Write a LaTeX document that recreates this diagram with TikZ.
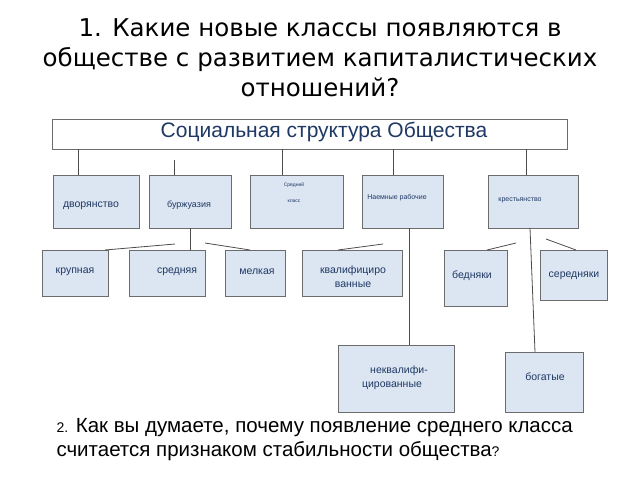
\documentclass[tikz,border=0pt]{standalone}
\usepackage{fontspec}
\setmainfont{DejaVu Sans}
\newfontfamily\arialf{Liberation Sans}
\begin{document}
\begin{tikzpicture}[x=1pt,y=-1pt,
  bx/.style={draw=gray!85!black,fill=boxfill,line width=1pt,inner sep=0pt,anchor=north west},
  tx/.style={text=txtc,font=\arialf\fontsize{10.5}{14}\selectfont,align=center},
  ln/.style={draw=black!70,line width=0.8pt}]
\definecolor{boxfill}{HTML}{DCE6F2}
\definecolor{txtc}{HTML}{1F3864}
\useasboundingbox (0,0) rectangle (640,480);
\node[align=center,font=\fontsize{24.5}{30}\selectfont] (h) at (320,58) {1. Какие новые классы появляются в\\обществе с развитием капиталистических\\отношений?};
\node[bx,fill=white,minimum width=515pt,minimum height=30pt] (t) at (52,119) {};
\node[tx,font=\arialf\fontsize{21}{23}\selectfont] (tt) at (324,132) {Социальная структура Общества};
\node[bx,minimum width=86pt,minimum height=53pt] (d) at (53,175) {};
\node[tx] (dt) at (91,206) {дворянство};
\node[bx,minimum width=82pt,minimum height=53pt] (b) at (149,175) {};
\node[tx,font=\arialf\fontsize{9}{11}\selectfont] (bt) at (189,205) {буржуазия};
\node[bx,minimum width=93pt,minimum height=53pt] (s) at (250,175) {};
\node[tx,font=\arialf\fontsize{5}{16}\selectfont] (st) at (294,193) {Средний\\класс};
\node[bx,minimum width=81pt,minimum height=53pt] (n) at (362,175) {};
\node[tx,font=\arialf\fontsize{7}{9}\selectfont] (nt) at (397,198) {Наемные рабочие};
\node[bx,minimum width=90pt,minimum height=53pt] (k) at (488,175) {};
\node[tx,font=\arialf\fontsize{7}{9}\selectfont] (kt) at (520,200) {крестьянство};
\node[bx,minimum width=66pt,minimum height=46pt] (kr) at (42,250) {};
\node[tx] (krt) at (75,272) {крупная};
\node[bx,minimum width=76pt,minimum height=46pt] (sr) at (129,250) {};
\node[tx] (srt) at (177,272) {средняя};
\node[bx,minimum width=60pt,minimum height=46pt] (m) at (225,250) {};
\node[tx] (mt) at (257,272) {мелкая};
\node[bx,minimum width=100pt,minimum height=46pt] (kv) at (302,250) {};
\node[tx] (kvt) at (353,277) {квалифициро\\ванные};
\node[bx,minimum width=63pt,minimum height=56pt] (be) at (444,250) {};
\node[tx] (bet) at (472,276) {бедняки};
\node[bx,minimum width=67pt,minimum height=50pt] (se) at (540,250) {};
\node[tx] (set) at (574,276) {середняки};
\node[bx,minimum width=116pt,minimum height=67pt] (nk) at (338,345) {};
\node[tx] (nkt) at (392,378) {\hspace*{14pt}неквалифи-\\цированные};
\node[bx,minimum width=78pt,minimum height=60pt] (bo) at (505,352) {};
\node[tx] (bot) at (545,377) {богатые};
% connectors
\coordinate (a1) at (78,149);
\draw[ln] (a1) -- (d.north west -| a1);
\coordinate (c1) at (174,160);
\draw[ln] (c1) -- (b.north west -| c1);
\coordinate (a3) at (282,149); \draw[ln] (a3) -- (s.north -| a3);
\coordinate (a4) at (393,149); \draw[ln] (a4) -- (n.north -| a4);
\coordinate (a5) at (526,149); \draw[ln] (a5) -- (k.north -| a5);
\coordinate (b1) at (175,244); \coordinate (b3) at (205,243);
\coordinate (b2) at (190,228);
\draw[ln] (b2) -- (sr.north -| b2);
\draw[ln] (b1) -- (105,250);
\draw[ln] (b3) -- (250,250);
\coordinate (n1) at (383,244);
\draw[ln] (n1) -- (338,250);
\coordinate (n2) at (409,228);
\draw[ln] (n2) -- (nk.north -| n2);
\coordinate (k1) at (516,243); \coordinate (k3) at (546,239);
\draw[ln] (k1) -- (487,250);
\draw[ln] (530,228) -- (535,352);
\draw[ln] (k3) -- (576,250);
\node[anchor=west,align=left,font=\arialf\fontsize{20.5}{24}\selectfont] (q) at (53,440) {{\fontsize{14}{15}\selectfont 2.} Как вы думаете, почему появление среднего класса\\считается признаком стабильности общества{\fontsize{14}{15}\selectfont ?}};
\end{tikzpicture}
\end{document}
